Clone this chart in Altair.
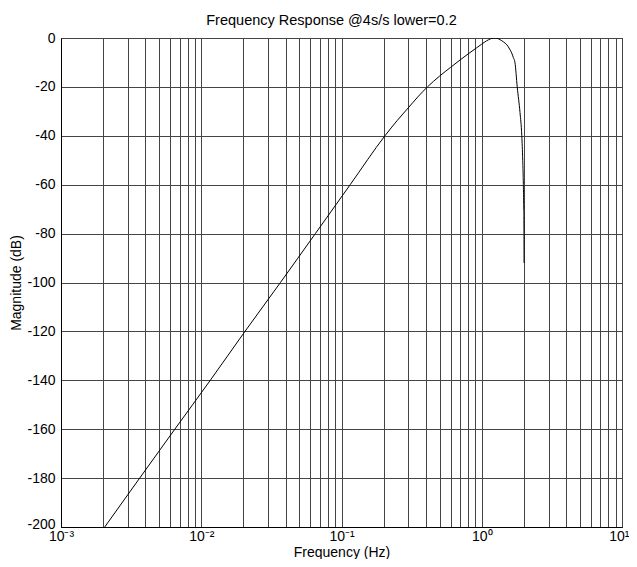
import altair as alt
import pandas as pd

# Curve (frequency in Hz, magnitude in dB)
freq = [0.00205, 0.00648, 0.0116, 0.0205, 0.0367, 0.0651, 0.1153, 0.204,
        0.25, 0.3, 0.35, 0.41, 0.5, 0.6, 0.7, 0.8, 0.92, 1.0, 1.08, 1.15,
        1.22, 1.3, 1.35, 1.43, 1.51, 1.58, 1.634, 1.68, 1.725, 1.79, 1.874,
        1.93, 1.96, 1.98, 1.993, 2.0, 2.003]
mag_db = [-200, -160, -140, -120, -100, -80, -60, -40,
          -33.7, -28.5, -24.1, -20, -15.6, -12.0, -9.0, -6.5, -4.0, -2.5, -1.2, -0.4,
          0, -0.2, -0.7, -1.6, -2.8, -4.5, -6.1, -8, -10, -20, -30.5,
          -40, -50, -60, -70, -80, -92]

x_grid = [m * 10.0 ** e for e in range(-3, 1) for m in range(1, 10)] + [10.0]
y_ticks = [0, -20, -40, -60, -80, -100, -120, -140, -160, -180, -200]

df = pd.DataFrame({"f": freq, "db": mag_db})

label_expr = ("datum.value == 0.001 ? '10⁻³' : datum.value == 0.01 ? '10⁻²' : "
              "datum.value == 0.1 ? '10⁻¹' : datum.value == 1 ? '10⁰' : "
              "datum.value == 10 ? '10¹' : ''")

font = "Liberation Sans"
grid_col = "#444"

chart = alt.Chart(df).mark_line(color="black", strokeWidth=1, clip=True,
                                interpolate="monotone").encode(
    x=alt.X("f:Q",
            scale=alt.Scale(type="log", domain=[0.001, 10], nice=False),
            axis=alt.Axis(values=x_grid, labelExpr=label_expr, title="Frequency (Hz)",
                          grid=True, gridColor=grid_col, gridOpacity=1, gridWidth=1,
                          ticks=False, labelFlush=False, labelOverlap=False,
                          labelAlign={"condition": {"test": "datum.value == 10", "value": "right"},
                                      "value": "center"},
                          labelOffset={"condition": {"test": "datum.value == 10", "value": 7},
                                       "value": 0},
                          labelPadding=2, titlePadding=2,
                          labelFont=font, labelFontSize=14, labelColor="black",
                          titleFont=font, titleFontSize=14, titleColor="black",
                          titleFontWeight="normal", domainColor="black")),
    y=alt.Y("db:Q",
            scale=alt.Scale(domain=[-200, 0], nice=False),
            axis=alt.Axis(values=y_ticks, title="Magnitude (dB)", labelExpr="'' + datum.value",
                          grid=True, gridColor=grid_col, gridOpacity=1, gridWidth=1,
                          ticks=False, labelPadding=6, titlePadding=3, labelFlush=False,
                          labelOffset={"condition": {"test": "datum.value == -200", "value": -3},
                                       "value": 0},
                          labelFont=font, labelFontSize=14, labelColor="black",
                          titleFont=font, titleFontSize=14, titleColor="black",
                          titleFontWeight="normal", domainColor="black")),
).properties(
    width=561, height=489,
    title=alt.TitleParams("Frequency Response @4s/s lower=0.2", fontSize=14.5,
                          font=font, fontWeight="normal", color="black", offset=3, dx=-10),
    autosize=alt.AutoSizeParams(type="none"),
    padding={"left": 53, "top": 30, "right": 7, "bottom": 32},
).configure_view(
    stroke="black", strokeWidth=1
)

chart.save("out.html", embed_options={"renderer": "svg", "actions": False})
